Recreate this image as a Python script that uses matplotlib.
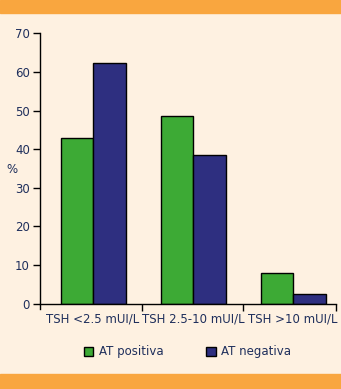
import matplotlib.pyplot as plt
import matplotlib.patches as mpatches
import numpy as np

categories = ['TSH <2.5 mUI/L', 'TSH 2.5-10 mUI/L', 'TSH >10 mUI/L']
at_positiva = [42.8, 48.5, 7.9]
at_negativa = [62.2, 38.4, 2.4]

cream = '#FEF1E1'
orange = '#F9A63F'
green = '#3DAA35'
blue = '#2E2F80'
txt = '#1F2F5C'

fig = plt.figure(figsize=(3.41, 3.89), dpi=100, facecolor=cream)
# orange bands top and bottom
fig.patches.append(mpatches.Rectangle((0, 1 - 13/389), 1, 13/389, transform=fig.transFigure,
                                      color=orange, zorder=0))
fig.patches.append(mpatches.Rectangle((0, 0), 1, 15/389, transform=fig.transFigure,
                                      color=orange, zorder=0))

W, H = 341, 389
ax = fig.add_axes([39.5/W, 1 - 303.7/H, (336 - 39.5)/W, (303.7 - 33.3)/H])
ax.set_facecolor('none')

x = np.arange(len(categories))
w = 0.325
ax.bar(x - w/2, at_positiva, w, color=green, edgecolor='black', linewidth=1, label='AT positiva')
ax.bar(x + w/2, at_negativa, w, color=blue, edgecolor='black', linewidth=1, label='AT negativa')

ax.set_xlim(-0.535, 2.43)
ax.set_ylim(0, 70)
ax.set_yticks(range(0, 71, 10))
ax.set_xticks([0.485, 1.505, 2.43])
ax.set_xticklabels([])
ax.set_xticks(x, minor=True)
ax.set_xticklabels(categories, minor=True)
ax.tick_params(axis='x', which='minor', length=0, pad=6, labelsize=8.5, labelcolor=txt)
ax.tick_params(axis='x', which='major', length=5, width=1, direction='out')
ax.tick_params(axis='y', length=5, width=1, direction='out', labelsize=8.5, labelcolor=txt, pad=2)
for s in ['top', 'right']:
    ax.spines[s].set_visible(False)
ax.spines['left'].set_linewidth(1)
ax.spines['bottom'].set_linewidth(1)
ax.spines['left'].set_bounds(-1.3, 70)

ax.set_ylabel('%', rotation=0, fontsize=8.5, color=txt, va='center', ha='center')
ax.yaxis.set_label_coords(-0.092, 0.495)

fig.legend(loc='center', bbox_to_anchor=(0.55, 1 - 352/H), ncol=2, frameon=False,
           fontsize=8.5, handlelength=0.8, handleheight=0.8, columnspacing=3.6,
           handletextpad=0.5, labelcolor=txt)

plt.savefig('out.png', dpi=100, facecolor=cream)
